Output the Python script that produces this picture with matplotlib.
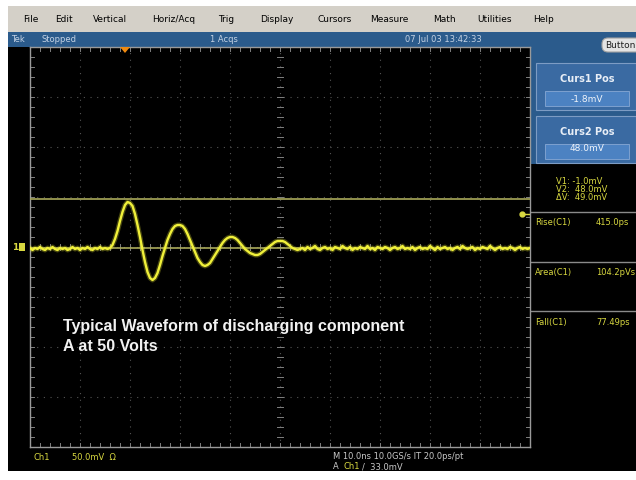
import numpy as np
import matplotlib
matplotlib.use("Agg")
import matplotlib.pyplot as plt
from matplotlib.patches import Rectangle, FancyBboxPatch, Polygon

# ---------------- data ----------------
sample_step_ns = 0.5
pre_mv = [-1, -3, -1, -2, 0, -2, -3, -1, -2, 0, -2, -3, -1, -2, -1, -3, -2, 0,
          -2, -1, -3, -1, -2, 0, -2, -3, -1, -2, 0, -2, -1, -2, -1]
ring_mv = [2, 8, 16, 26, 35, 42, 45, 44, 41, 33, 22, 10, -3, -15, -25, -31, -33,
           -31, -26, -18, -9, -1, 7, 13, 18, 21, 22, 22, 21, 18, 13, 7, 1, -5,
           -11, -15, -18, -19, -18, -16, -12, -8, -4, 0, 4, 7, 9, 10, 10, 9, 7,
           4, 1, -2, -4, -6, -7, -8, -8, -7, -5, -3, -1, 1, 3, 5, 6, 6, 6, 5,
           3, 1, -1, -2, -3, -2]
post_mv = [-1, -3, 0, -2, -1, 1, -2, -3, -1, 0, -2, -1, -3, 0, -1, -2, 1, -1,
           -2, 0, -3, -1, -2, 0, -1, -2, 1, -2, -1, -3, 0, -1, -2, 0, -1, -3,
           -1, 0, -2, -1, 1, -2, -1, -2, 0, -3, -1, 0, -2, -1, -2, 1, -1, -3,
           0, -2, -1, 0, -2, -1, -3, -1, 0, -2, 1, -1, -2, -1, 0, -3, -1, -2,
           0, -1, -2, 1, -1, -3, -1, 0, -2, -1, -2, 0, -1, -3, -1, 0, -2, -1,
           -2, -1]
cursor_mv = [-1.0, 48.0]
trigger_level_mv = 33.0
trigger_pos_ns = 19.0

menu_items = ["File", "Edit", "Vertical", "Horiz/Acq", "Trig", "Display",
              "Cursors", "Measure", "Math", "Utilities", "Help"]
menu_x = [23, 55, 93, 152, 218, 260, 317, 370, 433, 477, 533]

meas_names = ["Rise(C1)", "Area(C1)", "Fall(C1)"]
meas_values = ["415.0ps", "104.2pVs", "77.49ps"]

volts = np.array(pre_mv + ring_mv + post_mv, dtype=float)
t_ns = np.arange(len(volts)) * sample_step_ns

# ---------------- figure ----------------
W, H = 636, 481
fig = plt.figure(figsize=(W / 100, H / 100), dpi=100)
fig.patch.set_facecolor("white")

bg = fig.add_axes([0, 0, 1, 1], zorder=0)
bg.set_xlim(0, W)
bg.set_ylim(H, 0)
bg.axis("off")

BLUE = "#2b5b8c"
YEL = "#d8d840"
bg.add_patch(Rectangle((8, 7), W - 8, 26, fc="#d4d0c8", ec="none"))
bg.add_patch(Rectangle((8, 33), W - 8, 15, fc=BLUE, ec="none"))
bg.add_patch(Rectangle((8, 48), W - 8, 424, fc="black", ec="none"))
# right control panel
bg.add_patch(Rectangle((531, 48), W - 531, 117, fc=BLUE, ec="none"))
for y0 in (64, 117):
    bg.add_patch(Rectangle((536, y0), 100, 47, fc="#3a6aa2", ec="#7d9cc4", lw=0.8))
    bg.add_patch(Rectangle((545, y0 + 28), 84, 15, fc="#4c82c2", ec="#86a8d4", lw=0.6))
bg.add_patch(FancyBboxPatch((602, 39), 40, 14, boxstyle="round,pad=0,rounding_size=6",
                            fc="#e4e4e4", ec="#a0a0a0", lw=0.8))
for ys in (213, 263, 312):
    bg.plot([531, W], [ys, ys], color="#8a8a8a", lw=1.0)

# ---------------- scope graticule ----------------
ax = fig.add_axes([30 / W, (H - 448) / H, 500 / W, 400 / H], zorder=1)
ax.set_facecolor("black")
ax.set_xlim(0, 100)
ax.set_ylim(-200, 200)
ax.set_xticks([])
ax.set_yticks([])
for s in ax.spines.values():
    s.set_color("#9a9a9a")
    s.set_linewidth(1.0)

GRID = "#555555"
for i in range(1, 10):
    ax.plot([10 * i, 10 * i], [-200, 200], color=GRID, lw=0.8, ls=(0, (1, 5)))
for j in range(-3, 4):
    ax.plot([0, 100], [50 * j, 50 * j], color=GRID, lw=0.8, ls=(0, (1, 5)))
# tick marks on center lines and borders
tx = np.arange(2, 100, 2)
ty = np.arange(-190, 200, 10)
for x in tx:
    ax.plot([x, x], [-3, 3], color="#808080", lw=0.7)
    ax.plot([x, x], [-200, -196], color="#808080", lw=0.7)
    ax.plot([x, x], [196, 200], color="#808080", lw=0.7)
for y in ty:
    ax.plot([49.4, 50.6], [y, y], color="#808080", lw=0.7)
    ax.plot([0, 0.8], [y, y], color="#808080", lw=0.7)
    ax.plot([99.2, 100], [y, y], color="#808080", lw=0.7)

# cursors
for c in cursor_mv:
    ax.axhline(c, color="#a9a95a", lw=1.2, zorder=3)

# waveform
ax.plot(t_ns, volts, color="#e8e830", lw=3.6, alpha=0.3, zorder=4, solid_joinstyle="round")
ax.plot(t_ns, volts, color="#f0f03a", lw=1.7, zorder=5, solid_joinstyle="round")

# trigger level marker on right
ax.plot([98.4, 100], [trigger_level_mv, trigger_level_mv], color=YEL, lw=1.0, zorder=5)
ax.plot([98.4], [trigger_level_mv], "o", color=YEL, ms=3.5, zorder=6, clip_on=False)

# ---------------- foreground texts ----------------
fg = fig.add_axes([0, 0, 1, 1], zorder=2)
fg.set_xlim(0, W)
fg.set_ylim(H, 0)
fg.axis("off")
fg.patch.set_alpha(0)

# trigger position marker (orange)
tpx = 30 + trigger_pos_ns * 5
fg.add_patch(Polygon([[tpx - 5, 48], [tpx + 5, 48], [tpx, 54]], closed=True,
                     fc="#f08a10", ec="none"))
# channel marker
fg.add_patch(Rectangle((19, 244), 6, 8, fc=YEL, ec="none"))
fg.text(15, 248, "1", color=YEL, fontsize=6.5, fontweight="bold", va="center", ha="center")

mfont = dict(family="DejaVu Sans", fontsize=6.5, va="center", ha="left")
for name, x in zip(menu_items, menu_x):
    fg.text(x, 19, name, color="black", **mfont)

sfont = dict(family="DejaVu Sans", fontsize=6.0, va="center", ha="left", color="#c4d2e4")
fg.text(11, 40, "Tek", **sfont)
fg.text(42, 40, "Stopped", **sfont)
fg.text(210, 40, "1 Acqs", **sfont)
fg.text(405, 40, "07 Jul 03 13:42:33", **sfont)
fg.text(605, 46, "Button", family="DejaVu Sans", fontsize=6.5, va="center", ha="left",
        color="#202020")

pfont = dict(family="DejaVu Sans", fontsize=7, fontweight="bold", va="center",
             ha="center", color="#e8eef6")
fg.text(587, 79, "Curs1 Pos", **pfont)
fg.text(587, 132, "Curs2 Pos", **pfont)
vfont = dict(family="DejaVu Sans", fontsize=6.5, va="center", ha="center", color="#f0f4fa")
fg.text(587, 100, "%.1fmV" % -1.8, **vfont)
fg.text(587, 149, "%.1fmV" % cursor_mv[1], **vfont)

yfont = dict(family="DejaVu Sans", fontsize=6.0, va="center", ha="left", color=YEL)
fg.text(556, 182, "V1: %.1fmV" % cursor_mv[0], **yfont)
fg.text(556, 190, "V2:  %.1fmV" % cursor_mv[1], **yfont)
fg.text(556, 198, "\u0394V:  %.1fmV" % (cursor_mv[1] - cursor_mv[0]), **yfont)

for k, (nm, val) in enumerate(zip(meas_names, meas_values)):
    yy = 223 + 50 * k
    fg.text(535, yy, nm, **yfont)
    fg.text(596, yy, val, **yfont)

# annotation
fg.text(63, 327, "Typical Waveform of discharging component", color="#f2f2f2",
        family="Liberation Sans", fontweight="bold", fontsize=11.5, va="center", ha="left")
fg.text(63, 347, "A at 50 Volts", color="#f2f2f2",
        family="Liberation Sans", fontweight="bold", fontsize=11.5, va="center", ha="left")

# bottom status
fg.text(33, 458, "Ch1", **yfont)
fg.text(72, 458, "50.0mV  \u03a9", **yfont)
gfont = dict(family="DejaVu Sans", fontsize=6.0, va="center", ha="left", color="#c8c8c8")
fg.text(333, 457, "M 10.0ns 10.0GS/s IT 20.0ps/pt", **gfont)
fg.text(333, 467, "A", **gfont)
fg.text(343, 467, "Ch1", **yfont)
fg.text(362, 467, "/  33.0mV", **gfont)

fig.savefig("out.png", dpi=100, facecolor="white")
